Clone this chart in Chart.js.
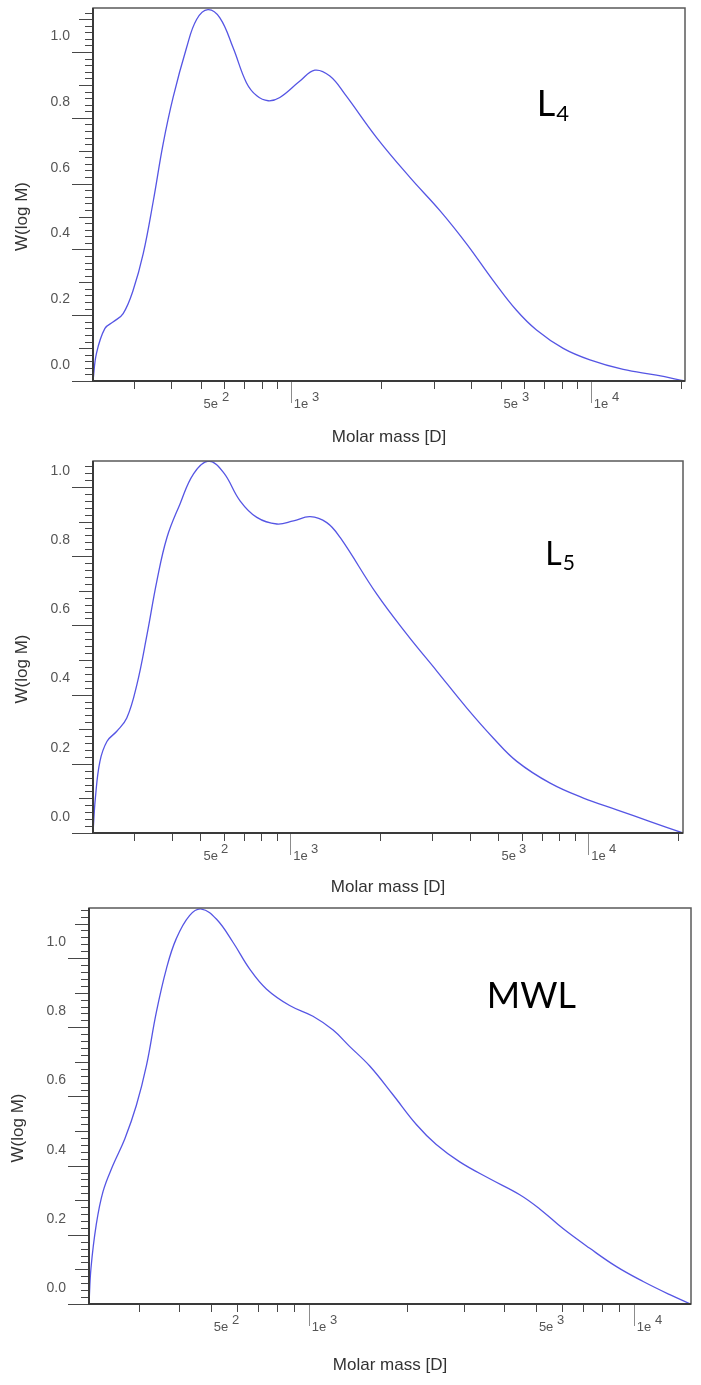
<!DOCTYPE html>
<html>
<head>
<meta charset="utf-8">
<script src="https://cdn.jsdelivr.net/npm/chart.js@4.4.1/dist/chart.umd.min.js"></script>
<style>
  html, body { margin: 0; padding: 0; background: #fff; }
  .panel { position: absolute; left: 0; width: 701px; }
</style>
</head>
<body>
<div class="panel" style="top:0;height:452px"><canvas id="chartL4"></canvas></div>
<div class="panel" style="top:452px;height:450px"><canvas id="chartL5"></canvas></div>
<div class="panel" style="top:902px;height:483px"><canvas id="chartMWL"></canvas></div>
<script>
// molar mass [D] and W(log M)
const l4Mass = [219, 225, 240, 256, 276, 298, 322, 348, 375, 405, 449, 485, 529, 580, 642, 711, 770, 840, 919, 1072, 1202, 1349, 1514, 1931, 2494, 3140, 3853, 4720, 5650, 6590, 8090, 9930, 12820, 16550, 20570];
const l4W = [0, 0.085, 0.16, 0.18, 0.205, 0.276, 0.387, 0.548, 0.72, 0.862, 1.013, 1.099, 1.129, 1.104, 1.013, 0.907, 0.867, 0.852, 0.862, 0.912, 0.945, 0.927, 0.872, 0.74, 0.619, 0.518, 0.417, 0.306, 0.215, 0.155, 0.099, 0.064, 0.035, 0.018, 0];

const l5Mass = [218, 222, 230, 243, 262, 283, 306, 331, 357, 386, 427, 474, 532, 597, 679, 773, 902, 1026, 1167, 1327, 1471, 1953, 2465, 3105, 3916, 4809, 5761, 7454, 9637, 12470, 16140, 20800];
const l5W = [0, 0.10, 0.207, 0.265, 0.294, 0.332, 0.429, 0.574, 0.728, 0.854, 0.951, 1.038, 1.075, 1.042, 0.960, 0.912, 0.893, 0.902, 0.914, 0.897, 0.854, 0.69, 0.574, 0.468, 0.361, 0.274, 0.207, 0.144, 0.101, 0.067, 0.033, 0];

const mwlMass = [211, 214, 222, 233, 250, 272, 295, 317, 340, 365, 391, 430, 468, 520, 585, 658, 741, 874, 1031, 1189, 1336, 1541, 1817, 2144, 2469, 2915, 3606, 4460, 5137, 6058, 7324, 8850, 10690, 12910, 14960];
const mwlW = [0, 0.104, 0.228, 0.325, 0.401, 0.478, 0.574, 0.69, 0.844, 0.969, 1.055, 1.123, 1.142, 1.113, 1.046, 0.969, 0.911, 0.863, 0.832, 0.792, 0.745, 0.688, 0.605, 0.519, 0.461, 0.411, 0.362, 0.316, 0.275, 0.218, 0.161, 0.108, 0.065, 0.027, 0];

// axis ticks
const xTickValues = [300, 400, 500, 600, 700, 800, 900, 1000, 2000, 3000, 4000, 5000, 6000, 7000, 8000, 9000, 10000, 20000];
const xTickLabels = { 500: ['5e', '2'], 1000: ['1e', '3'], 5000: ['5e', '3'], 10000: ['1e', '4'] };
const yTickValues = [0, 0.2, 0.4, 0.6, 0.8, 1.0];
const yMinorStep = 0.02;

const FONT = "'Liberation Sans', Arial, sans-serif";
Chart.defaults.font.family = FONT;

const decor = {
  id: 'decor',
  afterDraw(chart, args, opts) {
    const { ctx, chartArea: a, scales: { x, y } } = chart;
    ctx.save();

    // y ticks: minor every 0.02, medium at 0.1, major at 0.2
    ctx.lineWidth = 1;
    ctx.strokeStyle = '#474747';
    for (let i = 0; i * yMinorStep <= y.max + 1e-9; i++) {
      const py = Math.round(y.getPixelForValue(i * yMinorStep)) + 0.5;
      const len = i % 10 === 0 ? 21 : (i % 5 === 0 ? 14 : 8);
      ctx.beginPath();
      ctx.moveTo(a.left - len, py);
      ctx.lineTo(a.left, py);
      ctx.stroke();
    }

    // x ticks + exponents
    ctx.font = '13px ' + FONT;
    ctx.fillStyle = '#555';
    ctx.textAlign = 'left';
    ctx.textBaseline = 'middle';
    x.ticks.forEach(t => {
      const px = Math.round(x.getPixelForValue(t.value)) + 0.5;
      const big = t.value === 1000 || t.value === 10000;
      ctx.strokeStyle = big ? '#8c8c8c' : '#474747';
      ctx.beginPath();
      ctx.moveTo(px, a.bottom);
      ctx.lineTo(px, a.bottom + (big ? 22 : 8));
      ctx.stroke();
      const lab = xTickLabels[t.value];
      if (lab) {
        const bw = ctx.measureText(lab[0]).width;
        ctx.fillText(lab[1], px + 3 + bw + 3, a.bottom + 16);
      }
    });

    // frame
    ctx.strokeStyle = '#5a5a5a';
    ctx.lineWidth = 1.5;
    ctx.strokeRect(a.left, a.top, a.right - a.left, a.bottom - a.top);
    ctx.strokeStyle = '#3a3a3a';
    ctx.lineWidth = 2;
    ctx.beginPath();
    ctx.moveTo(a.left, a.top);
    ctx.lineTo(a.left, a.bottom);
    ctx.lineTo(a.right, a.bottom);
    ctx.stroke();

    // y title
    ctx.save();
    ctx.translate(a.left - 71, (a.top + a.bottom) / 2 + 22);
    ctx.rotate(-Math.PI / 2);
    ctx.font = '17px ' + FONT;
    ctx.fillStyle = '#333';
    ctx.textAlign = 'center';
    ctx.fillText('W(log M)', 0, 0);
    ctx.restore();

    // sample tag
    const tx = x.getPixelForValue(opts.tagAt.x);
    const ty = y.getPixelForValue(opts.tagAt.y);
    ctx.fillStyle = '#000';
    ctx.textBaseline = 'alphabetic';
    ctx.textAlign = 'left';
    ctx.font = opts.tagSize + "px Lato, 'Open Sans', sans-serif";
    ctx.fillText(opts.tag, tx, ty);
    if (opts.sub) {
      const tw = ctx.measureText(opts.tag).width;
      ctx.font = opts.subSize + "px Lato, 'Open Sans', sans-serif";
      ctx.fillText(opts.sub, tx + tw + 1, ty + 5);
    }
    ctx.restore();
  }
};

function makeChart(id, mass, w, cfg) {
  new Chart(document.getElementById(id), {
    type: 'line',
    data: {
      datasets: [{
        data: mass.map((m, i) => ({ x: m, y: w[i] })),
        borderColor: 'rgb(85, 85, 228)',
        borderWidth: 1.3,
        pointRadius: 0,
        tension: 0.4,
        fill: false
      }]
    },
    options: {
      responsive: true,
      maintainAspectRatio: false,
      animation: false,
      layout: { padding: { top: cfg.padTop, right: cfg.padRight, left: 0, bottom: 0 } },
      plugins: {
        legend: { display: false },
        tooltip: { enabled: false },
        decor: { tag: cfg.tag, sub: cfg.sub, tagAt: cfg.tagAt, tagSize: cfg.tagSize, subSize: cfg.subSize }
      },
      scales: {
        x: {
          type: 'logarithmic',
          min: cfg.xMin,
          max: cfg.xMax,
          grid: { display: false, drawTicks: false },
          border: { display: false },
          afterBuildTicks: s => { s.ticks = xTickValues.filter(v => v >= s.min && v <= s.max).map(v => ({ value: v })); },
          afterFit: s => { s.height = cfg.xHeight; s.paddingLeft = 0; s.paddingRight = 0; },
          ticks: {
            autoSkip: false,
            maxRotation: 0,
            align: 'start',
            labelOffset: 3,
            padding: 16,
            color: '#555',
            font: { size: 13 },
            callback: v => (xTickLabels[v] ? xTickLabels[v][0] : '')
          },
          title: {
            display: true,
            text: 'Molar mass [D]',
            color: '#333',
            font: { size: 17 },
            padding: { top: 0, bottom: cfg.xTitlePad }
          }
        },
        y: {
          min: 0,
          max: cfg.yMax,
          grid: { display: false, drawTicks: false },
          border: { display: false },
          afterBuildTicks: s => { s.ticks = yTickValues.map(v => ({ value: v })); },
          afterFit: s => { s.width = cfg.yWidth; s.paddingTop = 0; s.paddingBottom = 0; },
          ticks: {
            padding: 23,
            labelOffset: -16,
            color: '#555',
            font: { size: 14 },
            callback: v => v.toFixed(1)
          }
        }
      }
    },
    plugins: [decor]
  });
}

makeChart('chartL4', l4Mass, l4W, {
  xMin: 219, xMax: 20600, yMax: 1.134, padTop: 8, padRight: 16, yWidth: 93, xHeight: 71, xTitlePad: 4,
  tag: 'L', sub: '4', tagAt: { x: 6600, y: 0.806 }, tagSize: 36, subSize: 22
});
makeChart('chartL5', l5Mass, l5W, {
  xMin: 218, xMax: 20800, yMax: 1.075, padTop: 9, padRight: 18, yWidth: 93, xHeight: 69, xTitlePad: 4,
  tag: 'L', sub: '5', tagAt: { x: 7180, y: 0.775 }, tagSize: 32, subSize: 21
});
makeChart('chartMWL', mwlMass, mwlW, {
  xMin: 211, xMax: 15000, yMax: 1.145, padTop: 6, padRight: 10, yWidth: 89, xHeight: 81, xTitlePad: 9,
  tag: 'MWL', sub: '', tagAt: { x: 3530, y: 0.855 }, tagSize: 36, subSize: 22
});
</script>
</body>
</html>
